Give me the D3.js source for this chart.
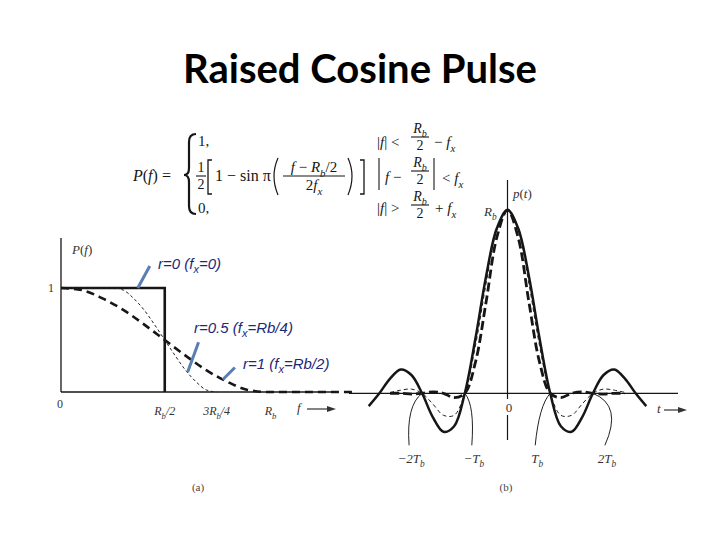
<!DOCTYPE html>
<html><head><meta charset="utf-8">
<script src="https://cdn.jsdelivr.net/npm/d3@7"></script>
<style>body{margin:0;background:#fff}svg{display:block}</style>
</head><body>
<script>
// ---------- DATA ----------
const titleText = "Raised Cosine Pulse";
// Left panel: spectrum P(f), f in units of Rb
const rect_f = [0, 0.5, 0.5];
const rect_P = [1, 1, 0];
const r05_f = [0, 0.25, 0.3, 0.35, 0.4, 0.45, 0.5, 0.55, 0.6, 0.65, 0.7, 0.75];
const r05_P = [1, 1, 0.98, 0.9, 0.79, 0.65, 0.5, 0.35, 0.21, 0.1, 0.02, 0];
const r1_f = [0, 0.1, 0.2, 0.3, 0.4, 0.5, 0.6, 0.7, 0.8, 0.9, 1.0, 1.42];
const r1_P = [1, 0.98, 0.9, 0.79, 0.65, 0.5, 0.35, 0.21, 0.1, 0.02, 0, 0];
const fTickVals = [0.5, 0.75, 1];
const fTickLabels = [["R","b","/2",""], ["3R","b","/4",""], ["R","b","",""]];
const annoLabels = [["r=0 (f","x","=0)"], ["r=0.5 (f","x","=Rb/4)"], ["r=1 (f","x","=Rb/2)"]];
// Right panel: pulse p(t), t in units of Tb
const tGrid   = [-3.25,-3,-2.75,-2.5,-2.25,-2,-1.75,-1.5,-1.25,-1,-0.75,-0.5,-0.25,0,0.25,0.5,0.75,1,1.25,1.5,1.75,2,2.25,2.5,2.75,3,3.25];
const p_r0    = [-0.07,0,0.08,0.13,0.10,0,-0.13,-0.21,-0.18,0,0.30,0.64,0.90,1,0.90,0.64,0.30,0,-0.18,-0.21,-0.13,0,0.10,0.13,0.08,0,-0.07];
const p_r05   = [null,null,0.005,0.017,0.023,0,-0.058,-0.12,-0.12,0,0.26,0.60,0.89,1,0.89,0.60,0.26,0,-0.12,-0.12,-0.058,0,0.023,0.017,0.005,null,null];
const p_r1    = [null,null,0,0,-0.004,0,0.008,0,-0.024,0,0.17,0.50,0.85,1,0.85,0.50,0.17,0,-0.024,0,0.008,0,-0.004,0,0,null,null];
const tTickVals = [-2, -1, 1, 2];
const tTickLabels = [["−2T","b"], ["−T","b"], ["T","b"], ["2T","b"]];

// ---------- SETUP ----------
const W = 720, H = 540;
const svg = d3.select("body").append("svg").attr("width", W).attr("height", H);
const ink = "#161616", gray = "#333";
const serif = "Liberation Serif, DejaVu Serif, serif";

function mtext(g, x, y, parts, size, anchor, fill) {
  const t = g.append("text").attr("x", x).attr("y", y)
    .attr("font-family", serif).attr("font-size", size)
    .attr("text-anchor", anchor || "start").attr("fill", fill || ink);
  let shift = 0;
  parts.forEach(([s, st]) => {
    st = st || "";
    const sub = st.includes("s");
    const target = sub ? size * 0.3 : 0;
    const ts = t.append("tspan").text(s);
    if (target - shift !== 0) ts.attr("dy", target - shift);
    shift = target;
    if (st.includes("i")) ts.attr("font-style", "italic");
    if (sub) ts.attr("font-size", size * 0.72);
  });
  return t;
}
function frac(g, cx, barY, num, den, size, halfW) {
  mtext(g, cx, barY - 4, num, size, "middle");
  g.append("line").attr("x1", cx - halfW).attr("x2", cx + halfW).attr("y1", barY).attr("y2", barY)
    .attr("stroke", ink).attr("stroke-width", 1.1);
  mtext(g, cx, barY + size - 1, den, size, "middle");
}

// ---------- TITLE ----------
svg.append("text").attr("x", 360).attr("y", 83).attr("text-anchor", "middle")
  .attr("font-family", "Lato, 'Open Sans', sans-serif").attr("font-weight", "bold")
  .attr("font-size", 40).attr("textLength", 354).attr("lengthAdjust", "spacingAndGlyphs")
  .attr("fill", "#000").text(titleText);

// ---------- FORMULA ----------
const fm = svg.append("g");
const R = ["R","i"], b = ["b","is"], fi = ["f","i"], x_ = ["x","is"];
mtext(fm, 133, 181, [["P","i"],["("],fi,[")  ="]], 16);
fm.append("path").attr("d", "M196,134 Q189,134 189,142 L189,168 Q189,175 184,175 Q189,175 189,182 L189,206 Q189,214 196,214")
  .attr("fill", "none").attr("stroke", ink).attr("stroke-width", 2.2);
mtext(fm, 198, 146, [["1,"]], 15);
frac(fm, 201, 176, [["1"]], [["2"]], 14, 5);
fm.append("path").attr("d", "M212,160 L208,160 L208,194 L212,194").attr("fill","none").attr("stroke",ink).attr("stroke-width",1.3);
mtext(fm, 215, 181, [["1 − sin "],["π"]], 16);
fm.append("path").attr("d", "M278,158 Q270,176 278,195").attr("fill","none").attr("stroke",ink).attr("stroke-width",1.2);
frac(fm, 314, 176, [fi,[" − "],R,b,["/2"]], [["2"],fi,x_], 15, 31);
fm.append("path").attr("d", "M348,158 Q356,176 348,195").attr("fill","none").attr("stroke",ink).attr("stroke-width",1.2);
fm.append("path").attr("d", "M360,160 L364,160 L364,194 L360,194").attr("fill","none").attr("stroke",ink).attr("stroke-width",1.3);
mtext(fm, 198, 213, [["0,"]], 15);
// conditions
mtext(fm, 377, 147, [["|"],fi,["|  <"]], 15);
frac(fm, 420, 137, [R,b], [["2"]], 14, 9);
mtext(fm, 434, 147, [["− "],fi,x_], 15);
fm.append("line").attr("x1",379).attr("x2",379).attr("y1",158).attr("y2",190).attr("stroke",ink).attr("stroke-width",1.1);
mtext(fm, 385, 182, [fi,["  −"]], 15);
frac(fm, 420, 171, [R,b], [["2"]], 14, 9);
fm.append("line").attr("x1",434).attr("x2",434).attr("y1",158).attr("y2",190).attr("stroke",ink).attr("stroke-width",1.1);
mtext(fm, 442, 183, [["< "],fi,x_], 15);
mtext(fm, 377, 213, [["|"],fi,["|  >"]], 15);
frac(fm, 420, 205, [R,b], [["2"]], 14, 9);
mtext(fm, 435, 213, [["+ "],fi,x_], 15);

// ---------- LEFT PANEL ----------
const xF = d3.scaleLinear().domain([0, 1]).range([61, 268.5]);
const yF = d3.scaleLinear().domain([0, 1]).range([392, 288]);
const L = svg.append("g");
L.append("line").attr("x1", xF(0)).attr("x2", 337).attr("y1", yF(0)).attr("y2", yF(0)).attr("stroke", ink).attr("stroke-width", 1.3);
L.append("line").attr("x1", xF(0)).attr("x2", xF(0)).attr("y1", yF(0)).attr("y2", 238).attr("stroke", ink).attr("stroke-width", 1.3);
const lineF = d3.line().x(d => xF(d[0])).y(d => yF(d[1]));
L.append("path").datum(d3.zip(rect_f, rect_P)).attr("d", lineF)
  .attr("fill", "none").attr("stroke", ink).attr("stroke-width", 2.6);
L.append("path").datum(d3.zip(r05_f, r05_P)).attr("d", lineF.curve(d3.curveMonotoneX))
  .attr("fill", "none").attr("stroke", "#222").attr("stroke-width", 1).attr("stroke-dasharray", "3,2.5");
L.append("path").datum(d3.zip(r1_f, r1_P)).attr("d", lineF.curve(d3.curveMonotoneX))
  .attr("fill", "none").attr("stroke", ink).attr("stroke-width", 2.6).attr("stroke-dasharray", "8,5");
// labels
mtext(L, 72, 254, [["P","i"],["("],fi,[")"]], 13, "start", gray);
mtext(L, 51, 292, [["1"]], 12, "middle", gray);
mtext(L, 60, 408, [["0"]], 12, "middle", gray);
fTickVals.forEach((v, i) => {
  const [a, s, c] = fTickLabels[i];
  mtext(L, xF(v) + (i === 2 ? 2 : 0), 415, [[a, "i"], [s, "is"], [c, "i"]], 12, "middle", gray);
});
mtext(L, 297, 412, [fi], 13, "start", gray);
L.append("line").attr("x1", 307).attr("x2", 332).attr("y1", 409).attr("y2", 409).attr("stroke", gray).attr("stroke-width", 1.2);
L.append("path").attr("d", "M336,409 L327,406 L327,412 Z").attr("fill", gray);
// blue annotations
const annoPos = [[158, 269], [194, 333], [243, 369]];
annoLabels.forEach((a, i) => {
  const t = L.append("text").attr("x", annoPos[i][0]).attr("y", annoPos[i][1])
    .attr("font-family", "Liberation Sans, Arial, sans-serif").attr("font-style", "italic")
    .attr("font-size", 15).attr("fill", "#1d2878");
  t.append("tspan").text(a[0]);
  t.append("tspan").text(a[1]).attr("font-size", 11).attr("dy", 4);
  t.append("tspan").text(a[2]).attr("dy", -4);
});
// arrows pointing at the curves
const arrowTargets = [[0.37, 1], [0.61, 0.19], [0.78, 0.12]];
const arrowTails = [[12, -22], [11, -30], [12, -12]];
arrowTargets.forEach((p, i) => {
  const x2 = xF(p[0]), y2 = yF(p[1]);
  L.append("line").attr("x1", x2 + arrowTails[i][0]).attr("y1", y2 + arrowTails[i][1])
    .attr("x2", x2).attr("y2", y2).attr("stroke", "#5a7db2").attr("stroke-width", 3);
});
mtext(L, 198, 491, [["(a)"]], 11, "middle", "#444");

// ---------- RIGHT PANEL ----------
const xT = d3.scaleLinear().domain([0, 1]).range([507.5, 550.2]);
const yT = d3.scaleLinear().domain([0, 1]).range([393.3, 210]);
const Rg = svg.append("g");
Rg.append("line").attr("x1", 349).attr("x2", 678).attr("y1", yT(0)).attr("y2", yT(0)).attr("stroke", ink).attr("stroke-width", 1.3);
Rg.append("line").attr("x1", xT(0)).attr("x2", xT(0)).attr("y1", 180).attr("y2", 399).attr("stroke", ink).attr("stroke-width", 1.2);
Rg.append("line").attr("x1", xT(0)).attr("x2", xT(0)).attr("y1", 415).attr("y2", 440).attr("stroke", ink).attr("stroke-width", 1.2);
const lineT = d3.line().defined(d => d[1] !== null).x(d => xT(d[0])).y(d => yT(d[1])).curve(d3.curveCatmullRom.alpha(0.5));
Rg.append("path").datum(d3.zip(tGrid, p_r05)).attr("d", lineT)
  .attr("fill", "none").attr("stroke", "#222").attr("stroke-width", 1).attr("stroke-dasharray", "4,3");
Rg.append("path").datum(d3.zip(tGrid, p_r1)).attr("d", lineT)
  .attr("fill", "none").attr("stroke", ink).attr("stroke-width", 2.8).attr("stroke-dasharray", "9,4");
Rg.append("path").datum(d3.zip(tGrid, p_r0)).attr("d", lineT)
  .attr("fill", "none").attr("stroke", ink).attr("stroke-width", 2.5);
// labels
mtext(Rg, 513, 198, [["p","i"],["("],["t","i"],[")"]], 13, "start", gray);
mtext(Rg, 484, 216, [["R","i"],["b","is"]], 13, "start", gray);
mtext(Rg, 509, 412, [["0"]], 13, "middle", gray);
mtext(Rg, 657, 413, [["t","i"]], 13, "start", gray);
Rg.append("line").attr("x1", 664).attr("x2", 683).attr("y1", 410).attr("y2", 410).attr("stroke", gray).attr("stroke-width", 1.2);
Rg.append("path").attr("d", "M687,410 L678,407 L678,413 Z").attr("fill", gray);
const labelDx = [-11, 9, -13, 14];
const ctrlDx = [-16, 10, -11, 30];
tTickVals.forEach((v, i) => {
  const x0 = xT(v), y0 = yT(0);
  const lx = x0 + labelDx[i];
  Rg.append("path").attr("d", `M${lx - 2},${y0 + 52} Q${x0 + ctrlDx[i]},${y0 + 12} ${x0},${y0}`)
    .attr("fill", "none").attr("stroke", "#222").attr("stroke-width", 1);
  mtext(Rg, lx, 463, [[tTickLabels[i][0], "i"], [tTickLabels[i][1], "is"]], 13, "middle", gray);
});
mtext(Rg, 506, 491, [["(b)"]], 11, "middle", "#444");
</script>
</body></html>
